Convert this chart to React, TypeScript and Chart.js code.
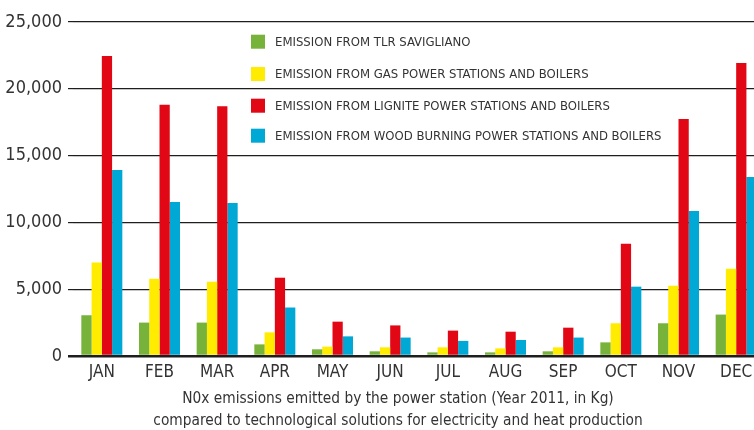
import React, { useEffect, useRef } from "react";
import { Chart, registerables } from "chart.js";

Chart.register(...registerables);

const months = ["JAN", "FEB", "MAR", "APR", "MAY", "JUN", "JUL", "AUG", "SEP", "OCT", "NOV", "DEC"];
const tlrSavigliano = [3050, 2500, 2500, 870, 500, 350, 270, 270, 350, 1020, 2450, 3100];
const gasStations = [7000, 5780, 5560, 1770, 700, 650, 650, 570, 650, 2450, 5260, 6530];
const ligniteStations = [22450, 18800, 18700, 5860, 2570, 2290, 1900, 1820, 2120, 8400, 17740, 21930];
const woodStations = [13920, 11530, 11450, 3630, 1470, 1380, 1130, 1200, 1380, 5190, 10850, 13400];
const seriesNames = [
  "EMISSION FROM TLR SAVIGLIANO",
  "EMISSION FROM GAS POWER STATIONS AND BOILERS",
  "EMISSION FROM LIGNITE POWER STATIONS AND BOILERS",
  "EMISSION FROM WOOD BURNING POWER STATIONS AND BOILERS",
];
const seriesColors = ["#77b23a", "#ffec00", "#e20714", "#00a8d6"];
const axisTitle = [
  "N0x emissions emitted by the power station (Year 2011, in Kg)",
  "compared to technological solutions for electricity and heat production",
];

const FONT = "'Liberation Sans Narrow', 'DejaVu Sans Condensed', 'Roboto Condensed', 'Liberation Sans', sans-serif";

const legendPlugin = {
  id: "insideLegend",
  afterDraw(chart: any) {
    const ctx = chart.ctx;
    ctx.save();
    const rows = [41.7, 74, 105.7, 135.7];
    chart.data.datasets.forEach((ds: any, i: number) => {
      const y = rows[i];
      ctx.fillStyle = ds.backgroundColor;
      ctx.fillRect(251, y - 7, 14, 14);
      ctx.fillStyle = "#333333";
      ctx.font = `13px ${FONT}`;
      ctx.textBaseline = "middle";
      ctx.textAlign = "left";
      ctx.fillText(ds.label, 275, y + 0.5);
    });
    ctx.restore();
  },
};

const bottomTitlePlugin = {
  id: "bottomTitle",
  afterDraw(chart: any) {
    const ctx = chart.ctx;
    ctx.save();
    ctx.fillStyle = "#333333";
    ctx.font = `15.3px ${FONT}`;
    ctx.textBaseline = "middle";
    ctx.textAlign = "center";
    axisTitle.forEach((line, i) => {
      ctx.fillText(line, 398, 399 + i * 22);
    });
    ctx.restore();
  },
};

export default function App() {
  const ref = useRef<HTMLCanvasElement>(null);
  useEffect(() => {
    if (!ref.current) return;
    const data = [tlrSavigliano, gasStations, ligniteStations, woodStations];
    const chart = new Chart(ref.current, {
      type: "bar",
      data: {
        labels: months,
        datasets: data.map((d, i) => ({
          label: seriesNames[i],
          data: d,
          backgroundColor: seriesColors[i],
          borderWidth: 0,
          categoryPercentage: 0.711,
          barPercentage: 1,
        })),
      },
      options: {
        animation: false,
        responsive: false,
        maintainAspectRatio: false,
        layout: { padding: { top: 22, right: 0, bottom: 0, left: 0 } },
        plugins: {
          legend: { display: false },
          tooltip: { enabled: false },
        },
        scales: {
          x: {
            grid: { display: false, drawTicks: false },
            border: { display: false },
            ticks: {
              color: "#333333",
              font: { family: FONT, size: 17 },
              padding: 6,
              maxRotation: 0,
            },
            afterFit: (scale: any) => {
              scale.height = 74;
            },
          },
          y: {
            min: 0,
            max: 25000,
            ticks: {
              stepSize: 5000,
              color: "#333333",
              font: { family: FONT, size: 18 },
              padding: 6,
              callback: (v: any) => Number(v).toLocaleString("en-US"),
            },
            grid: {
              color: "#1e1e1e",
              lineWidth: (c: any) => (c.tick && c.tick.value === 0 ? 2.5 : 1.2),
              tickLength: 5,
              tickColor: "#1e1e1e",
              drawTicks: true,
            },
            border: { display: false },
            afterFit: (scale: any) => {
              scale.width = 73;
            },
          },
        },
      },
      plugins: [legendPlugin, bottomTitlePlugin],
    });
    return () => chart.destroy();
  }, []);
  return (
    <div style={{ position: "absolute", left: 0, top: 0, width: 754, height: 430, overflow: "hidden", background: "#fff" }}>
      <canvas ref={ref} width={765} height={430} style={{ display: "block", width: 765, height: 430 }} />
    </div>
  );
}
